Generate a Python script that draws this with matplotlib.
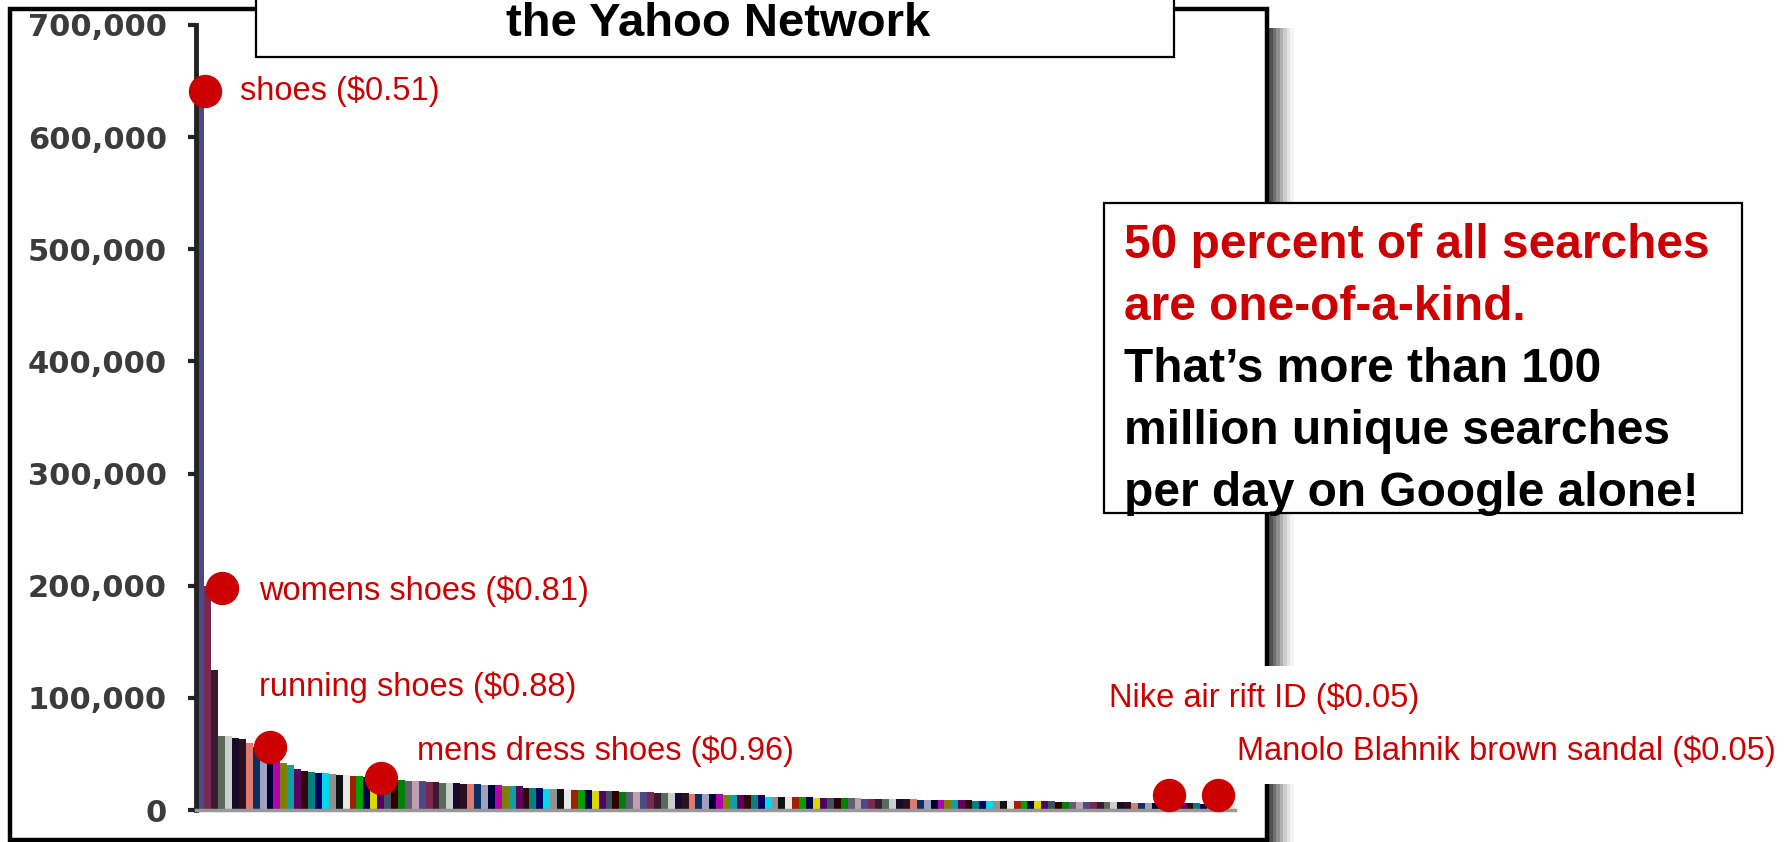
import matplotlib.pyplot as plt
from matplotlib.patches import Rectangle

# daily searches per shoe keyword on the Yahoo network (thousands), sorted high to low
searches = [645, 200, 125, 66, 66, 64, 63, 60, 56, 52,
            48, 45, 42, 40, 37, 35, 34, 33, 33, 32,
            31, 31, 30, 30, 29, 28, 28, 27, 27, 27,
            26, 26, 26, 25, 25, 24, 24, 24, 23, 23,
            23, 22, 22, 22, 21, 21, 21, 20, 20, 20,
            19, 19, 19, 18, 18, 18, 18, 17, 17, 17,
            17, 16, 16, 16, 16, 16, 15, 15, 15, 15,
            15, 14, 14, 14, 14, 14, 13, 13, 13, 13,
            13, 13, 12, 12, 12, 12, 12, 12, 12, 11,
            11, 11, 11, 11, 11, 11, 10, 10, 10, 10,
            10, 10, 10, 10, 9, 9, 9, 9, 9, 9,
            9, 9, 8, 8, 8, 8, 8, 8, 8, 8,
            8, 8, 8, 8, 7, 7, 7, 7, 7, 7,
            7, 7, 7, 7, 7, 6, 6, 6, 6, 6,
            6, 6, 6, 6, 6, 5, 5, 5, 5, 5]

tick_values = [0, 100, 200, 300, 400, 500, 600, 700]
tick_labels = ['0', '100,000', '200,000', '300,000', '400,000', '500,000', '600,000', '700,000']

# highlighted keywords with cost per click
keywords = ['shoes ($0.51)', 'womens shoes ($0.81)', 'running shoes ($0.88)',
            'mens dress shoes ($0.96)', 'Nike air rift ID ($0.05)',
            'Manolo Blahnik brown sandal ($0.05)']
keyword_rank = [0.6, 3.0, 10.0, 26.0, 140.0, 147.0]
keyword_searches = [641, 198, 56, 28.5, 13, 13]

title = 'the Yahoo Network'
note_red = ['50 percent of all searches', 'are one-of-a-kind.']
note_black = ['That\u2019s more than 100', 'million unique searches', 'per day on Google alone!']

red = '#cc0000'
palette = ['#4a4a88', '#7a2850', '#3a1a30', '#5a6a5a', '#c8d0d0', '#1a0a2a', '#2a1020',
           '#e07a70', '#0a3060', '#a0a0c0', '#000030', '#b000b0', '#808000', '#10a0a0',
           '#600060', '#300808', '#008080', '#000060', '#00d8f0', '#909090', '#101010',
           '#e8e8e8', '#a02000', '#00a000', '#000050', '#d8d800', '#500060', '#405060',
           '#300000', '#008000', '#606070', '#c0a0b0']
colors = [palette[i % len(palette)] for i in range(len(searches))]

W, H = 1789, 842
fig = plt.figure(figsize=(W / 100, H / 100), dpi=100)

# overlay in pixel coordinates for the frame and the boxes
ov = fig.add_axes([0, 0, 1, 1])
ov.set_xlim(0, W)
ov.set_ylim(H, 0)
ov.axis('off')
ov.set_zorder(0)

# shadow to the right of the frame
shades = ['#505050', '#707070', '#909090', '#b0b0b0', '#cccccc', '#e4e4e4', '#f4f4f4']
for k, c in enumerate(shades):
    ov.add_patch(Rectangle((1269 + k * 3.5, 28), 3.5, H, color=c, lw=0))
ov.add_patch(Rectangle((10, 9), 1257, 831, fill=False, ec='black', lw=3.2))

# title box (cut by the top edge)
ov.add_patch(Rectangle((256, -20), 918, 77, fc='white', ec='black', lw=1.6))
ov.text(718, 24, title, ha='center', va='center', fontsize=34, fontweight='bold',
        family='Liberation Sans')

# note box
ov.add_patch(Rectangle((1104, 203), 638, 310, fc='white', ec='black', lw=1.6))
lines = note_red + note_black
for i, line in enumerate(lines):
    ov.text(1124, 246 + i * 62, line, ha='left', va='center', fontsize=34.5,
            fontweight='bold', family='Liberation Sans',
            color=red if line in note_red else 'black')

# the chart
ax = fig.add_axes([196 / W, 32 / H, (1235 - 196) / W, (810 - 25) / H])
ax.set_zorder(1)
ax.patch.set_visible(False)
ax.bar(range(len(searches)), searches, width=1.0, color=colors, edgecolor='none')
ax.set_xlim(-0.7, len(searches) - 0.5)
ax.set_ylim(0, 700)
ax.set_yticks(tick_values)
ax.set_yticklabels(tick_labels, fontweight='bold', color='#3b3b3b', fontsize=22,
                   family='DejaVu Sans')
ax.tick_params(axis='y', length=6, width=3, color='#222222', pad=15)
ax.tick_params(axis='x', bottom=False, labelbottom=False)
ax.spines['top'].set_visible(False)
ax.spines['right'].set_visible(False)
ax.spines['left'].set_linewidth(3.5)
ax.spines['left'].set_color('#222222')
ax.spines['bottom'].set_linewidth(2.5)
ax.spines['bottom'].set_color('#999999')

# dots drawn above the white label boxes
ax.plot(keyword_rank, keyword_searches, 'o', color=red, markersize=23, clip_on=False,
        zorder=7)

offsets = [(35, 0), (37, -3), (-11, 60), (36, 27), (-60, 97), (19, 44)]
for i, kw in enumerate(keywords):
    box = dict(fc='white', ec='none', pad=12) if i >= 4 else None
    ax.annotate(kw, (keyword_rank[i], keyword_searches[i]), xytext=offsets[i],
                textcoords='offset pixels', ha='left', va='center', fontsize=23.5,
                color=red, family='Liberation Sans',
                annotation_clip=False, bbox=box, zorder=6)

fig.savefig('out.png', dpi=100)
